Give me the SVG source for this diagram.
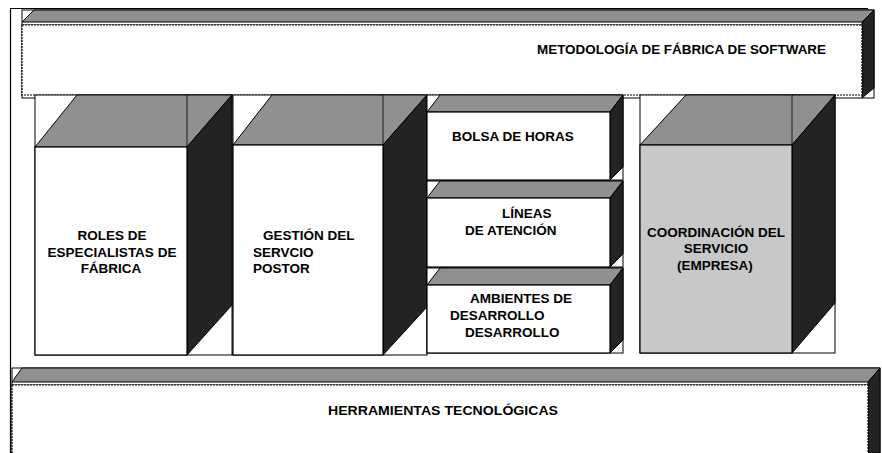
<svg xmlns="http://www.w3.org/2000/svg" width="882" height="453" viewBox="0 0 882 453">
<style>
.bg{fill:#ffffff}
.ln{fill:none;stroke:#000;stroke-width:1.2}
.thin{fill:none;stroke:#000;stroke-width:0.8}
.top{fill:#909090;stroke:#000;stroke-width:1}
.side{fill:#232323;stroke:#000;stroke-width:1}
.front{fill:#ffffff;stroke:#000;stroke-width:1.2}
.front2{fill:#c8c8c8;stroke:#000;stroke-width:1.2}
.frame{fill:#ffffff;stroke:#000;stroke-width:1}
text{font-family:"Liberation Sans",Arial,sans-serif;font-weight:bold;font-size:13.5px;fill:#000}
.c{text-anchor:middle}
</style>
<rect x="0" y="0" width="882" height="453" class="bg"/>

<g id="outer-frame">
<line x1="10.5" y1="8" x2="10.5" y2="453" class="ln"/>
<line x1="10" y1="8.5" x2="868" y2="8.5" class="ln"/>
</g>

<g id="connectors"></g>

<g id="metodologia">
<rect x="22" y="10" width="852" height="88" class="frame"/>
<polygon points="22,22 34,10 874,10 862,22" class="top"/>
<polygon points="862,22 874,10 874,88 862,98" class="side"/>
<line x1="22" y1="25" x2="862" y2="25" class="ln"/>
<rect x="22" y="25" width="840" height="70" class="front" stroke-dasharray="2 1"/>
<text x="537" y="54" font-size="13.3" textLength="289" lengthAdjust="spacingAndGlyphs">METODOLOGÍA DE FÁBRICA DE SOFTWARE</text>
</g>

<g id="roles">
<rect x="35" y="95" width="197" height="260" class="frame"/>
<polygon points="35,147 77,95 232,95 187,147" class="top"/>
<line x1="187" y1="95" x2="187" y2="147" class="thin"/>
<polygon points="187,147 232,95 232,305 187,355" class="side"/>
<rect x="35" y="147" width="152" height="208" class="front"/>
<text class="c" x="112" y="240">ROLES DE</text>
<text class="c" x="112" y="257">ESPECIALISTAS DE</text>
<text class="c" x="111" y="273">FÁBRICA</text>
</g>

<g id="gestion">
<rect x="233" y="95" width="194" height="260" class="frame"/>
<polygon points="233,145 272,95 427,95 383,145" class="top"/>
<line x1="383" y1="95" x2="383" y2="145" class="thin"/>
<polygon points="383,145 427,95 427,307 383,355" class="side"/>
<rect x="233" y="145" width="150" height="210" class="front"/>
<text x="263" y="240">GESTIÓN DEL</text>
<text x="253" y="257">SERVCIO</text>
<text x="253" y="273">POSTOR</text>
</g>

<g id="bolsa">
<rect x="427" y="95" width="196" height="85" class="frame"/>
<polygon points="427,112 440,95 623,95 610,112" class="top"/>
<polygon points="610,112 623,95 623,167 610,180" class="side"/>
<rect x="427" y="112" width="183" height="68" class="front"/>
<text x="452" y="141">BOLSA DE HORAS</text>
</g>

<g id="lineas">
<rect x="427" y="181" width="196" height="86" class="frame"/>
<polygon points="427,198 440,181 623,181 610,198" class="top"/>
<polygon points="610,198 623,181 623,254 610,267" class="side"/>
<rect x="427" y="198" width="183" height="69" class="front"/>
<text x="502" y="218">LÍNEAS</text>
<text x="465" y="235">DE ATENCIÓN</text>
</g>

<g id="ambientes">
<rect x="427" y="268" width="196" height="85" class="frame"/>
<polygon points="427,285 440,268 623,268 610,285" class="top"/>
<polygon points="610,285 623,268 623,340 610,353" class="side"/>
<rect x="427" y="285" width="183" height="68" class="front"/>
<text x="470" y="303">AMBIENTES DE</text>
<text x="450" y="320">DESARROLLO</text>
<text x="465" y="337">DESARROLLO</text>
</g>

<g id="coordinacion">
<rect x="640" y="95" width="195" height="258" class="frame"/>
<polygon points="640,145 686,95 835,95 792,145" class="top"/>
<line x1="792" y1="95" x2="792" y2="145" class="thin"/>
<polygon points="792,145 835,95 835,303 792,353" class="side"/>
<rect x="640" y="145" width="152" height="208" class="front2"/>
<text class="c" x="716" y="237">COORDINACIÓN DEL</text>
<text class="c" x="716" y="253">SERVICIO</text>
<text class="c" x="715" y="270">(EMPRESA)</text>
</g>

<g id="herramientas">
<rect x="12" y="368" width="868" height="90" class="frame"/>
<polygon points="12,382 22,368 880,368 868,382" class="top"/>
<polygon points="868,382 880,368 880,453 868,453" class="side"/>
<line x1="12" y1="385" x2="868" y2="385" class="ln"/>
<rect x="12" y="385" width="856" height="72" class="front" stroke-dasharray="2 1"/>
<text x="328" y="415" font-size="14" textLength="230" lengthAdjust="spacingAndGlyphs">HERRAMIENTAS TECNOLÓGICAS</text>
</g>
</svg>
